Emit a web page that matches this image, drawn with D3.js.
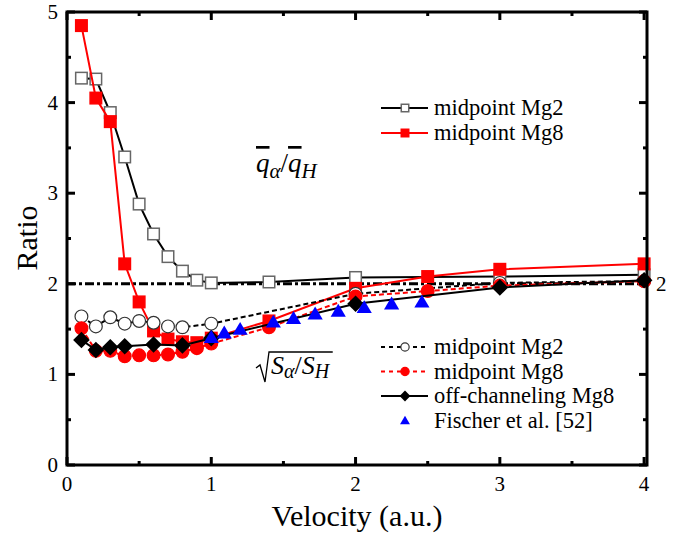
<!DOCTYPE html>
<html>
<head>
<meta charset="utf-8">
<script src="https://cdn.jsdelivr.net/npm/d3@7"></script>
<style>
  body { margin: 0; background: #fff; }
</style>
</head>
<body>
<div id="chart"></div>
<script>
// q-bar ratio, midpoint Mg2 (open squares)
const qMg2X = [0.1, 0.2, 0.3, 0.4, 0.5, 0.6, 0.7, 0.8, 0.9, 1.0, 1.4, 2.0, 3.0, 4.0];
const qMg2Y = [4.27, 4.26, 3.89, 3.40, 2.88, 2.55, 2.30, 2.14, 2.04, 2.01, 2.02, 2.07, 2.08, 2.10];
// q-bar ratio, midpoint Mg8 (red squares)
const qMg8X = [0.1, 0.2, 0.3, 0.4, 0.5, 0.6, 0.7, 0.8, 0.9, 1.0, 1.4, 2.0, 2.5, 3.0, 4.0];
const qMg8Y = [4.85, 4.05, 3.79, 2.22, 1.80, 1.48, 1.39, 1.36, 1.35, 1.40, 1.59, 1.95, 2.08, 2.16, 2.22];
// sqrt(S ratio), midpoint Mg2 (open circles)
const sMg2X = [0.1, 0.2, 0.3, 0.4, 0.5, 0.6, 0.7, 0.8, 1.0, 2.0, 3.0, 4.0];
const sMg2Y = [1.64, 1.53, 1.63, 1.56, 1.59, 1.57, 1.53, 1.52, 1.56, 1.89, 2.01, 2.03];
// sqrt(S ratio), midpoint Mg8 (red circles)
const sMg8X = [0.1, 0.2, 0.3, 0.4, 0.5, 0.6, 0.7, 0.8, 0.9, 1.0, 1.4, 2.0, 2.5, 3.0, 4.0];
const sMg8Y = [1.51, 1.26, 1.26, 1.20, 1.21, 1.21, 1.22, 1.25, 1.29, 1.34, 1.52, 1.86, 1.92, 1.98, 2.03];
// off-channeling Mg8 (diamonds)
const offX = [0.1, 0.2, 0.3, 0.4, 0.6, 0.8, 1.0, 2.0, 3.0, 4.0];
const offY = [1.38, 1.27, 1.30, 1.31, 1.33, 1.32, 1.40, 1.78, 1.96, 2.04];
// Fischer et al. [52] (blue triangles)
const fisX = [1.0, 1.09, 1.2, 1.43, 1.57, 1.72, 1.88, 2.06, 2.25, 2.46];
const fisY = [1.41, 1.46, 1.50, 1.58, 1.62, 1.67, 1.70, 1.74, 1.78, 1.80];

const xTicks = [0, 1, 2, 3, 4];
const yTicks = [0, 1, 2, 3, 4, 5];
const refLevel = 2;

const FONT = "'Liberation Serif', 'Times New Roman', 'DejaVu Serif', serif";
const W = 685, H = 537;
const svg = d3.select("#chart").append("svg")
  .attr("width", W).attr("height", H)
  .attr("font-family", FONT)
  .style("font-family", FONT);

const x = d3.scaleLinear().domain([0, 4.02]).range([67, 647]);
const y = d3.scaleLinear().domain([0, 5]).range([465, 12]);

const zip = (xs, ys) => xs.map((v, i) => [v, ys[i]]);
const line = d3.line().x(d => x(d[0])).y(d => y(d[1]));

// reference dash-dot line at 2
svg.append("line")
  .attr("x1", x(0)).attr("x2", x(4.02))
  .attr("y1", y(refLevel)).attr("y2", y(refLevel))
  .attr("stroke", "#000").attr("stroke-width", 3)
  .attr("stroke-dasharray", "9,3,3,3");

function drawSeries(data, opt) {
  svg.append("path").datum(data)
    .attr("d", line).attr("fill", "none")
    .attr("stroke", opt.line).attr("stroke-width", 2)
    .attr("stroke-dasharray", opt.dash || null);
  const g = svg.append("g");
  data.forEach(d => drawMarker(g, x(d[0]), y(d[1]), opt.shape, opt, 1));
}

function drawMarker(g, cx, cy, shape, opt, k) {
  if (shape === "square") {
    const s = 11.5 * k;
    g.append("rect").attr("x", cx - s / 2).attr("y", cy - s / 2)
      .attr("width", s).attr("height", s)
      .attr("fill", opt.fill).attr("stroke", opt.stroke).attr("stroke-width", 1.5);
  } else if (shape === "circle") {
    g.append("circle").attr("cx", cx).attr("cy", cy).attr("r", 6.4 * k)
      .attr("fill", opt.fill).attr("stroke", opt.stroke).attr("stroke-width", 1.2);
  } else if (shape === "diamond") {
    const r = 8.3 * k;
    g.append("path")
      .attr("d", `M${cx},${cy - r}L${cx + r},${cy}L${cx},${cy + r}L${cx - r},${cy}Z`)
      .attr("fill", opt.fill);
  } else if (shape === "triangle") {
    const r = 7.6 * k;
    g.append("path")
      .attr("d", `M${cx},${cy - r * 0.95}L${cx + r},${cy + r * 0.75}L${cx - r},${cy + r * 0.75}Z`)
      .attr("fill", opt.fill);
  }
}

const styles = {
  qMg2: {line: "#000", shape: "square", fill: "#fff", stroke: "#666"},
  qMg8: {line: "#ff0000", shape: "square", fill: "#ff0000", stroke: "#ff0000"},
  sMg2: {line: "#000", dash: "5,3", shape: "circle", fill: "#fff", stroke: "#333"},
  sMg8: {line: "#ff0000", dash: "5,3", shape: "circle", fill: "#ff0000", stroke: "#ff0000"},
  off: {line: "#000", shape: "diamond", fill: "#000"},
  fis: {line: "none", shape: "triangle", fill: "#0000ff"}
};

drawSeries(zip(qMg2X, qMg2Y), styles.qMg2);
drawSeries(zip(qMg8X, qMg8Y), styles.qMg8);
drawSeries(zip(sMg2X, sMg2Y), styles.sMg2);
drawSeries(zip(sMg8X, sMg8Y), styles.sMg8);
drawSeries(zip(offX, offY), styles.off);
// Fischer: markers only
{
  const g = svg.append("g");
  zip(fisX, fisY).forEach(d => drawMarker(g, x(d[0]), y(d[1]), "triangle", styles.fis, 1));
}

// frame
svg.append("rect")
  .attr("x", 67).attr("y", 12).attr("width", 580).attr("height", 453)
  .attr("fill", "none").attr("stroke", "#000").attr("stroke-width", 3);

// ticks (inward, mirrored)
const ticks = svg.append("g").attr("stroke", "#000").attr("stroke-width", 3);
d3.range(0, 4.01, 0.5).forEach(v => {
  const len = Number.isInteger(v) ? 8 : 4;
  ticks.append("line").attr("x1", x(v)).attr("x2", x(v)).attr("y1", 465).attr("y2", 465 - len);
  ticks.append("line").attr("x1", x(v)).attr("x2", x(v)).attr("y1", 12).attr("y2", 12 + len);
});
d3.range(0, 5.01, 0.5).forEach(v => {
  const len = Number.isInteger(v) ? 8 : 4;
  ticks.append("line").attr("y1", y(v)).attr("y2", y(v)).attr("x1", 67).attr("x2", 67 + len);
  ticks.append("line").attr("y1", y(v)).attr("y2", y(v)).attr("x1", 647).attr("x2", 647 - len);
});

// tick labels
svg.selectAll("text.xt").data(xTicks).enter().append("text")
  .attr("class", "xt").attr("x", d => x(d)).attr("y", 491)
  .attr("text-anchor", "middle").attr("font-size", 21).text(d => d);
svg.selectAll("text.yt").data(yTicks).enter().append("text")
  .attr("class", "yt").attr("x", 58).attr("y", d => y(d) + 7)
  .attr("text-anchor", "end").attr("font-size", 21).text(d => d);
svg.append("text").attr("x", 656).attr("y", y(refLevel) + 7)
  .attr("font-size", 21).text(refLevel);

// axis titles
svg.append("text").attr("x", 357).attr("y", 526)
  .attr("text-anchor", "middle").attr("font-size", 30).text("Velocity (a.u.)");
svg.append("text")
  .attr("transform", "translate(37,238) rotate(-90)")
  .attr("text-anchor", "middle").attr("font-size", 30).text("Ratio");

// annotation: q-bar ratio
const qa = svg.append("text").attr("x", 256).attr("y", 172)
  .attr("font-size", 27).attr("font-style", "italic");
qa.append("tspan").style("text-decoration", "overline").text("q");
qa.append("tspan").attr("dy", 6).attr("font-size", 21).text("\u03b1");
qa.append("tspan").attr("dy", -6).attr("font-style", "normal").text("/");
qa.append("tspan").style("text-decoration", "overline").text("q");
qa.append("tspan").attr("dy", 6).attr("font-size", 21).text("H");

// annotation: sqrt(S ratio)
const sa = svg.append("text").attr("x", 271).attr("y", 374)
  .attr("font-size", 26).attr("font-style", "italic");
sa.append("tspan").text("S");
sa.append("tspan").attr("dy", 4).attr("font-size", 20).text("\u03b1");
sa.append("tspan").attr("dy", -4).attr("font-style", "normal").text("/");
sa.append("tspan").text("S");
sa.append("tspan").attr("dy", 4).attr("font-size", 20).text("H");
const sb = sa.node().getBBox();
svg.append("path")
  .attr("d", `M${sb.x - 15},${sb.y + sb.height * 0.55}L${sb.x - 11},${sb.y + sb.height * 0.45}` +
             `L${sb.x - 6},${sb.y + sb.height}L${sb.x - 2},${sb.y + 1}L${sb.x + sb.width + 2},${sb.y + 1}`)
  .attr("fill", "none").attr("stroke", "#000").attr("stroke-width", 1.3);

// legends
function legend(rows, x0, y0, dy) {
  rows.forEach((r, i) => {
    const ly = y0 + i * dy;
    const st = styles[r.key];
    if (st.line !== "none") {
      svg.append("line").attr("x1", x0).attr("x2", x0 + 47).attr("y1", ly).attr("y2", ly)
        .attr("stroke", st.line).attr("stroke-width", 2)
        .attr("stroke-dasharray", st.dash ? "4,4" : null);
    }
    drawMarker(svg, x0 + 24, ly, st.shape, st, 0.65);
    svg.append("text").attr("x", x0 + 53).attr("y", ly + 7)
      .attr("font-size", 22.5).text(r.label);
  });
}
legend([
  {key: "qMg2", label: "midpoint Mg2"},
  {key: "qMg8", label: "midpoint Mg8"}
], 381, 108, 25);
legend([
  {key: "sMg2", label: "midpoint Mg2"},
  {key: "sMg8", label: "midpoint Mg8"},
  {key: "off", label: "off-channeling Mg8"},
  {key: "fis", label: "Fischer et al. [52]"}
], 381, 347, 24.5);
</script>
</body>
</html>
